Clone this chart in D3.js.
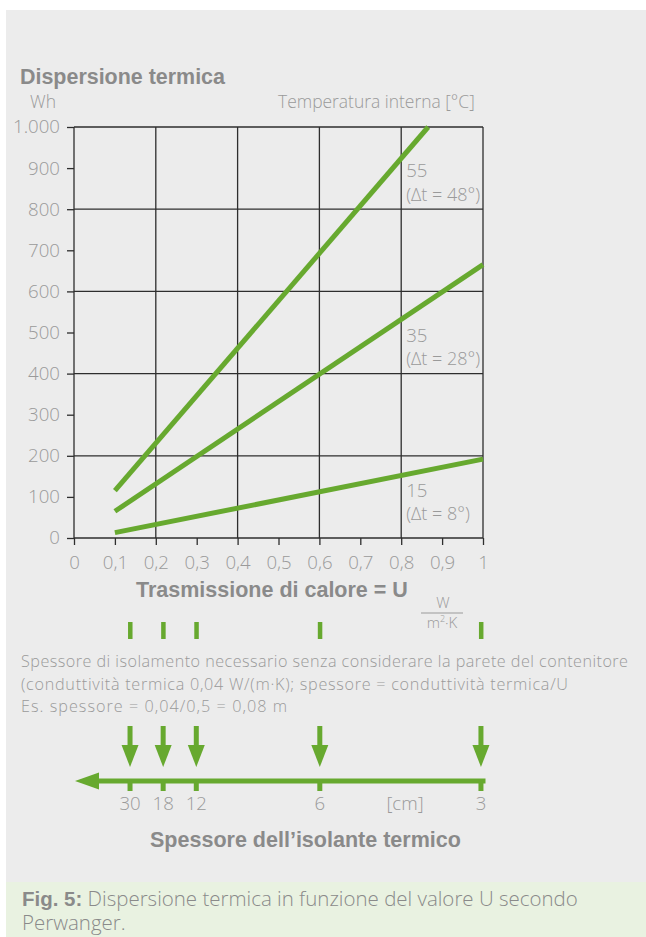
<!DOCTYPE html>
<html><head><meta charset="utf-8">
<script src="https://cdn.jsdelivr.net/npm/d3@7"></script>
<style>
html,body{margin:0;padding:0;background:#fff;}
svg{display:block;}
text{font-family:"Open Sans","Liberation Sans",Arial,sans-serif;font-weight:300;}
text.b, tspan.b{font-family:"Liberation Sans",Arial,sans-serif;font-weight:bold;}
</style></head>
<body>
<script>
// ---------- data ----------
const uTickValues = [0,0.1,0.2,0.3,0.4,0.5,0.6,0.7,0.8,0.9,1];
const uTickLabels = ["0","0,1","0,2","0,3","0,4","0,5","0,6","0,7","0,8","0,9","1"];
const whTickValues = [0,100,200,300,400,500,600,700,800,900,1000];
const whTickLabels = ["0","100","200","300","400","500","600","700","800","900","1.000"];
const temps = ["55","35","15"];
const deltas = ["(\u0394t = 48°)","(\u0394t = 28°)","(\u0394t = 8°)"];
const uStart = [0.1,0.1,0.1];
const whStart = [115,65,13];
const uEnd = [0.866,1,1];
const whEnd = [1000,665,192];
const markerU = [0.137,0.218,0.299,0.601,0.995];
const thicknessCm = ["30","18","12","6","3"];
const noteLines = [
  "Spessore di isolamento necessario senza considerare la parete del contenitore",
  "(conduttività termica 0,04 W/(m\u00b7K); spessore = conduttività termica/U",
  "Es. spessore = 0,04/0,5 = 0,08 m"
];

// ---------- layout ----------
const W = 646, H = 937;
const green = "#67a92f";
const grey = "#9a9a9a";
const dark = "#8a8a8a";
const svg = d3.select("body").append("svg").attr("width", W).attr("height", H);

// scale a text element's font-size (capped) and spacing so that it spans a target width
function fit(sel, target, maxFS){
  const node = sel.node();
  const fs = parseFloat(sel.attr("font-size"));
  const len = node.getComputedTextLength();
  let nfs = fs * target / len;
  if (maxFS && nfs > maxFS) {
    nfs = maxFS;
    sel.attr("font-size", nfs.toFixed(2));
    const l2 = node.getComputedTextLength();
    const n = node.getNumberOfChars();
    sel.attr("letter-spacing", ((target - l2) / Math.max(1, n - 1)).toFixed(3));
  } else {
    sel.attr("font-size", nfs.toFixed(2));
  }
  return nfs;
}

svg.append("rect").attr("x",6).attr("y",10).attr("width",W-6).attr("height",872).attr("fill","#ececec");
svg.append("rect").attr("x",6).attr("y",882).attr("width",W-6).attr("height",H-882).attr("fill","#e9f2e1");

const x = d3.scaleLinear().domain([0,1]).range([74,483]);
const y = d3.scaleLinear().domain([0,1000]).range([538,127]);

// titles
fit(svg.append("text").attr("class","b").attr("x",20).attr("y",84).attr("font-size",20).attr("fill",dark).text("Dispersione termica"), 205);
fit(svg.append("text").attr("x",30).attr("y",108).attr("font-size",16.5).attr("fill",grey).text("Wh"), 26);
fit(svg.append("text").attr("x",278).attr("y",108).attr("font-size",16.5).attr("fill",grey).text("Temperatura interna [°C]"), 197);

// grid
const g = svg.append("g");
const majorU = uTickValues.filter((d,i)=>i%2===0 && d>0);
const majorWh = whTickValues.filter((d,i)=>i%2===0 && d>0);
g.selectAll(".vg").data(majorU).join("line")
  .attr("x1",d=>x(d)).attr("x2",d=>x(d)).attr("y1",y(1000)).attr("y2",y(0))
  .attr("stroke","#2e2e2e").attr("stroke-width",1.3);
g.selectAll(".hg").data(majorWh).join("line")
  .attr("x1",x(0)).attr("x2",x(1)).attr("y1",d=>y(d)).attr("y2",d=>y(d))
  .attr("stroke","#2e2e2e").attr("stroke-width",1.3);

// axes
const yAxis = d3.axisLeft(y).tickValues(whTickValues).tickFormat((d,i)=>whTickLabels[i]).tickSize(7).tickPadding(7);
const yg = svg.append("g").attr("transform",`translate(${x(0)},0)`).call(yAxis);
const xAxis = d3.axisBottom(x).tickValues(uTickValues).tickFormat((d,i)=>uTickLabels[i]).tickSize(7).tickPadding(11);
const xg = svg.append("g").attr("transform",`translate(0,${y(0)})`).call(xAxis);
[yg,xg].forEach(a=>{
  a.select(".domain").attr("stroke","#2e2e2e").attr("stroke-width",1.3).attr("d", a===yg ? `M0,${y(1000)}V${y(0)}` : `M${x(0)},0H${x(1)}`);
  a.selectAll(".tick line").attr("stroke","#2e2e2e").attr("stroke-width",1.3);
  a.selectAll(".tick text").attr("fill",grey).attr("font-size",16.5)
    .attr("font-family","Open Sans, Liberation Sans, Arial, sans-serif").attr("font-weight",300);
});
// common size for numeric labels, from the widest tick label
let numFS = 16.5;
yg.selectAll(".tick text").each(function(d,i){ if (whTickLabels[i]==="1.000") numFS = fit(d3.select(this), 47); });
yg.selectAll(".tick text").attr("font-size",numFS.toFixed(2));
xg.selectAll(".tick text").attr("font-size",numFS.toFixed(2));

// series lines
const lineGen = d3.line().x(d=>x(d[0])).y(d=>y(d[1]));
temps.forEach((t,i)=>{
  svg.append("path").attr("d",lineGen([[uStart[i],whStart[i]],[uEnd[i],whEnd[i]]]))
    .attr("stroke",green).attr("stroke-width",5).attr("fill","none");
});
// series labels
const labelWh = [878,477,100];
let dtFS = null;
temps.forEach((t,i)=>{
  const lx = x(0.8)+5, ly = y(labelWh[i]);
  svg.append("text").attr("x",lx).attr("y",ly).attr("font-size",numFS.toFixed(2)).attr("fill",grey).text(t);
  const dt = svg.append("text").attr("x",lx).attr("y",ly+23.5).attr("font-size",16.5).attr("fill",grey).text(deltas[i]);
  if (i===0) dtFS = fit(dt, 74); else dt.attr("font-size", dtFS.toFixed(2));
});

// x title
fit(svg.append("text").attr("class","b").attr("x",136).attr("y",597).attr("font-size",19.5).attr("fill",dark).text("Trasmissione di calore = U"), 272);
// unit fraction
svg.append("text").attr("x",443).attr("y",608).attr("font-size",15).attr("fill",grey).attr("text-anchor","middle").text("W");
svg.append("line").attr("x1",421).attr("x2",463).attr("y1",613).attr("y2",613).attr("stroke",grey).attr("stroke-width",1);
const mk = svg.append("text").attr("x",442).attr("y",628).attr("font-size",15).attr("fill",grey).attr("text-anchor","middle");
mk.append("tspan").text("m");
mk.append("tspan").attr("font-size",9).attr("dy",-6).text("2");
mk.append("tspan").attr("dy",6).text("\u00b7K");

// green markers
svg.selectAll(".mark").data(markerU).join("rect")
  .attr("x",d=>x(d)-2).attr("y",622).attr("width",4.5).attr("height",17).attr("fill",green);

// note text
const noteW = [607,547,266];
svg.selectAll(".note").data(noteLines).join("text")
  .attr("x",21).attr("y",(d,i)=>667+i*22.5).attr("font-size",16).attr("fill",grey).text(d=>d)
  .each(function(d,i){ fit(d3.select(this), noteW[i], 16.2); });

// down arrows
markerU.forEach(u=>{
  const cx = x(u);
  svg.append("rect").attr("x",cx-2.5).attr("y",726).attr("width",5).attr("height",21).attr("fill",green);
  svg.append("path").attr("d",`M${cx-8.5},745L${cx+8.5},745L${cx},767Z`).attr("fill",green);
});
// thickness axis
svg.append("line").attr("x1",x(1)+2.5).attr("x2",96).attr("y1",781).attr("y2",781).attr("stroke",green).attr("stroke-width",5);
svg.append("path").attr("d","M75,781L99,772.5L99,789.5Z").attr("fill",green);
markerU.forEach((u,i)=>{
  svg.append("rect").attr("x",x(u)-2.5).attr("y",779).attr("width",5).attr("height",12).attr("fill",green);
  svg.append("text").attr("x",x(u)).attr("y",810).attr("font-size",numFS.toFixed(2)).attr("fill",grey).attr("text-anchor","middle").text(thicknessCm[i]);
});
svg.append("text").attr("x",405).attr("y",810).attr("font-size",numFS.toFixed(2)).attr("fill",grey).attr("text-anchor","middle").text("[cm]");
fit(svg.append("text").attr("class","b").attr("x",150).attr("y",847).attr("font-size",19.5).attr("fill",dark).text("Spessore dell\u2019isolante termico"), 311);

// caption
const cap = svg.append("text").attr("x",22).attr("y",906).attr("font-size",17).attr("fill",dark);
cap.append("tspan").attr("class","b").text("Fig. 5:");
cap.append("tspan").text(" Dispersione termica in funzione del valore U secondo");
const capFS = fit(cap, 556);
svg.append("text").attr("x",22).attr("y",930).attr("font-size",capFS.toFixed(2)).attr("fill",dark).text("Perwanger.");
</script>
</body></html>
